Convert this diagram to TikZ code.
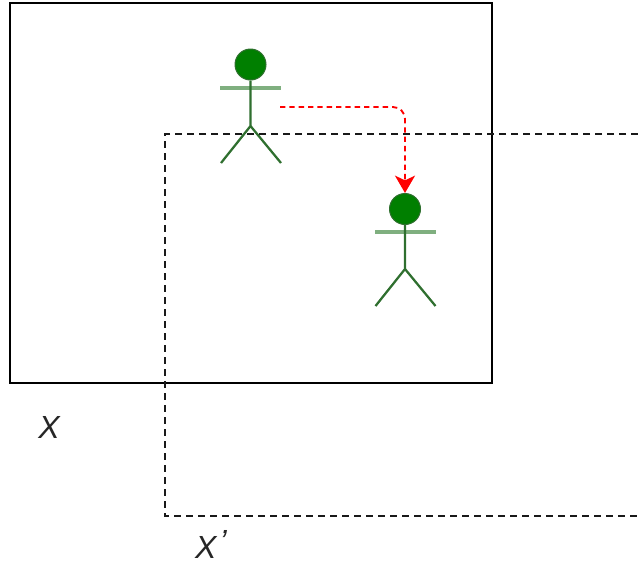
\documentclass[tikz,border=0pt]{standalone}
\usepackage{fontspec}
\setmainfont{Liberation Sans}
\usetikzlibrary{arrows.meta}
\definecolor{actorgreen}{HTML}{007F00}
\definecolor{limbgreen}{HTML}{2F6F2F}
\definecolor{armgreen}{HTML}{7FAF7F}
\tikzset{
  px/.style={x=0.75pt,y=-0.75pt},
  head/.style={circle,draw=limbgreen,fill=actorgreen,line width=0.75pt,minimum size=23.25pt,inner sep=0pt},
  limb/.style={draw=limbgreen,line width=1.7pt},
  arm/.style={draw=armgreen,line width=2.6pt},
  frame/.style={draw=black,line width=1.8pt,outer sep=0pt},
  shifted/.style={draw=black!90,line width=1.1pt,dash pattern=on 5.4pt off 3.6pt},
  move/.style={draw=red,line width=1.4pt,dash pattern=on 4pt off 3pt,rounded corners=9pt,-{Stealth[length=13pt,width=15pt,inset=3.5pt]}},
  label/.style={font=\fontsize{24}{28}\selectfont\itshape,text=black!85,inner sep=0pt,outer sep=0pt}
}
\begin{document}
\begin{tikzpicture}[px]
\useasboundingbox (0,0) rectangle (638,565);
\node[frame,minimum width=361.5pt,minimum height=285pt,inner sep=0pt,anchor=north west] (screen) at (10,3) {};
\draw[shifted] (638,134) -- (165,134) -- (165,516) -- (638,516);
% first actor
\node[head] (h1) at (250.5,64.5) {};
\coordinate (a1l) at (220,88); \coordinate (a1r) at (281,88);
\coordinate (hip1) at (250.5,126); \coordinate (f1l) at (221,163); \coordinate (f1r) at (281,163);
\draw[arm] (a1l) -- (a1r);
\draw[limb] (h1) -- (hip1) (f1l) -- (hip1) -- (f1r);
% second actor
\node[head] (h2) at (405,209) {};
\coordinate (a2l) at (375,232); \coordinate (a2r) at (436,232);
\coordinate (hip2) at (405,269); \coordinate (f2l) at (375.5,306); \coordinate (f2r) at (435.5,306);
\draw[arm] (a2l) -- (a2r);
\draw[limb] (h2) -- (hip2) (f2l) -- (hip2) -- (f2r);
% move arrow
\coordinate (start) at (280,107);
\draw[move] (start) -| (h2.north);
\node[label,anchor=base] (x) at (49,438) {X};
\node[label,anchor=base west] (xp) at (195,558) {X\kern2.5pt\raisebox{4.5pt}{'}};
\end{tikzpicture}
\end{document}
